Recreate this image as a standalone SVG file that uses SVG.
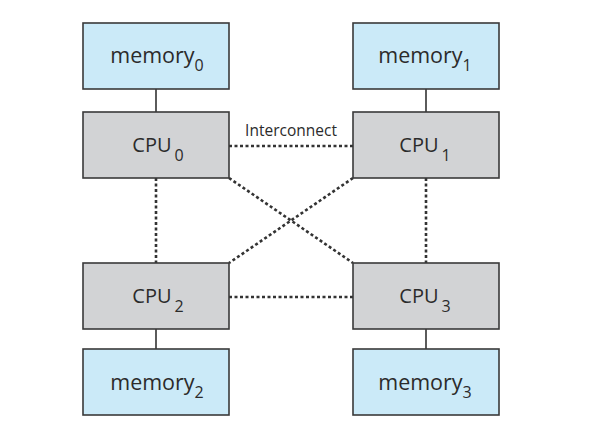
<svg xmlns="http://www.w3.org/2000/svg" width="590" height="443" viewBox="0 0 590 443">
<style>
.mem{fill:#cbeaf8;stroke:#3a3a3a;stroke-width:1.6}
.cpu{fill:#d2d3d5;stroke:#3a3a3a;stroke-width:1.6}
.t{font-family:"Open Sans","Noto Sans",sans-serif;fill:#2b2b2b;text-anchor:middle}
.tm{font-size:21.5px}
.tc{font-size:20px}
.s{font-size:16px}
.solid{stroke:#333;stroke-width:1.6;fill:none}
.dot{stroke:#333;stroke-width:2.6;stroke-dasharray:3 2.5;fill:none}
.lbl{font-family:"Open Sans","Noto Sans",sans-serif;font-size:15.5px;fill:#2b2b2b;text-anchor:middle}
</style>
<rect width="590" height="443" fill="#fff"/>
<g id="connectors">
<line class="solid" x1="156" y1="89" x2="156" y2="112"/>
<line class="solid" x1="426" y1="89" x2="426" y2="112"/>
<line class="solid" x1="156" y1="329" x2="156" y2="349"/>
<line class="solid" x1="426" y1="329" x2="426" y2="349"/>
<line class="dot" x1="229" y1="146" x2="353" y2="146"/>
<line class="dot" x1="229" y1="297" x2="353" y2="297"/>
<line class="dot" x1="156" y1="178" x2="156" y2="263"/>
<line class="dot" x1="426" y1="178" x2="426" y2="263"/>
<line class="dot" x1="229" y1="178" x2="353" y2="263"/>
<line class="dot" x1="353" y1="178" x2="229" y2="263"/>
<text class="lbl" x="291" y="136">Interconnect</text>
</g>
<g id="memory0"><rect class="mem" x="83" y="23" width="146" height="66"/><text class="t tm" x="157" y="63">memory<tspan class="s" dy="8">0</tspan></text></g>
<g id="memory1"><rect class="mem" x="353" y="23" width="146" height="66"/><text class="t tm" x="425" y="63">memory<tspan class="s" dy="8">1</tspan></text></g>
<g id="cpu0"><rect class="cpu" x="83" y="112" width="146" height="66"/><text class="t tc" x="158" y="152">CPU<tspan class="s" dx="3" dy="9">0</tspan></text></g>
<g id="cpu1"><rect class="cpu" x="353" y="112" width="146" height="66"/><text class="t tc" x="425" y="152">CPU<tspan class="s" dx="3" dy="9">1</tspan></text></g>
<g id="cpu2"><rect class="cpu" x="83" y="263" width="146" height="66"/><text class="t tc" x="158" y="303">CPU<tspan class="s" dx="3" dy="9">2</tspan></text></g>
<g id="cpu3"><rect class="cpu" x="353" y="263" width="146" height="66"/><text class="t tc" x="425" y="303">CPU<tspan class="s" dx="3" dy="9">3</tspan></text></g>
<g id="memory2"><rect class="mem" x="83" y="349" width="146" height="66"/><text class="t tm" x="157" y="390">memory<tspan class="s" dy="8">2</tspan></text></g>
<g id="memory3"><rect class="mem" x="353" y="349" width="146" height="66"/><text class="t tm" x="425" y="390">memory<tspan class="s" dy="8">3</tspan></text></g>
</svg>
